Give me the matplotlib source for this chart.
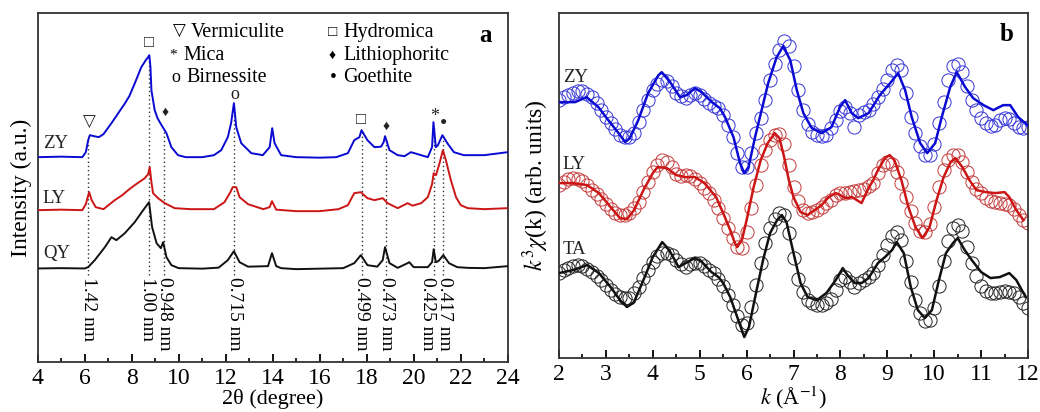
import matplotlib
matplotlib.use("Agg")
import matplotlib.pyplot as plt
from matplotlib.ticker import MultipleLocator
import numpy as np

plt.rcParams["font.family"] = ["Liberation Serif", "DejaVu Sans"]
plt.rcParams["mathtext.fontset"] = "stix"

# ---- panel a: XRD patterns (stacked, arbitrary units) ----
zy_x = [4.0, 5.0, 5.9, 6.05, 6.15, 6.22, 6.4, 6.6, 6.8, 7.14, 7.4, 7.71, 7.9, 8.13, 8.41, 8.6, 8.7, 8.75, 8.8, 8.84,
        8.98, 9.1, 9.27, 9.48, 9.69, 9.97, 10.3, 11.0, 11.5, 11.81, 12.09, 12.23, 12.35, 12.45, 12.66, 13.09, 13.58,
        13.87, 13.98, 14.08, 14.36, 15.0, 16.0, 16.7, 17.2, 17.47, 17.69, 17.78, 18.03, 18.33, 18.61, 18.72, 18.78,
        18.97, 19.32, 19.61, 19.88, 20.1, 20.6, 20.78, 20.84, 20.94, 21.03, 21.22, 21.43, 21.71, 22.13, 23.0, 24.0]
zy_y = [205, 205.5, 205, 210, 222, 227, 226, 225, 228, 239, 248, 258.7, 266, 278.7, 295, 302, 305, 307, 295, 272,
        252, 244, 237, 229, 215, 207, 205, 205, 207, 212, 225, 239, 259, 235, 219, 209, 207,
        215, 234, 219, 207, 205, 204.5, 205, 209, 222, 225, 232, 222, 215, 215.5, 220, 226,
        212, 207, 206, 210, 208.5, 205, 215, 240, 215, 217, 227, 219, 210, 207, 207, 210]

ly_x = [4.0, 5.0, 5.9, 6.05, 6.19, 6.3, 6.47, 6.8, 7.28, 7.6, 7.85, 8.13, 8.56, 8.7, 8.77, 8.84, 8.91, 9.12, 9.41,
        9.83, 10.5, 11.5, 11.95, 12.2, 12.3, 12.45, 12.59, 12.95, 13.6, 13.87, 13.97, 14.15, 15.0, 16.0, 16.8, 17.2,
        17.47, 17.75, 18.03, 18.33, 18.68, 18.89, 19.32, 19.74, 19.95, 20.32, 20.6, 20.78, 20.85, 20.95, 21.1,
        21.24, 21.37, 21.58, 21.8, 22.0, 22.3, 23.0, 24.0]
ly_y = [152, 152.5, 152, 158, 170, 162, 155, 153, 162, 167, 172, 177, 184, 188, 195, 180, 169, 164, 159,
        154, 153, 153, 160, 170, 175, 175, 165, 158, 153, 155, 161, 152.5, 151, 151, 153, 157,
        169, 170, 164, 162, 164, 159, 154, 159, 156.5, 159, 165, 178, 189, 187, 199,
        212, 202, 182, 165, 157, 154, 153, 154]

qy_x = [4.0, 5.0, 6.0, 6.15, 6.43, 6.86, 7.14, 7.35, 7.71, 8.13, 8.49, 8.74, 8.87, 9.06, 9.24, 9.34, 9.48, 9.69,
        10.0, 11.0, 11.7, 12.09, 12.35, 12.59, 12.95, 13.8, 13.97, 14.15, 14.36, 15.0, 16.0, 17.0, 17.47, 17.75,
        18.03, 18.45, 18.68, 18.78, 18.97, 19.32, 19.74, 19.81, 20.0, 20.6, 20.78, 20.85, 20.94, 21.05, 21.26,
        21.5, 21.85, 22.3, 23.0, 24.0]
qy_y = [93.7, 94, 93.7, 95, 102, 115, 125, 122, 129, 140, 152, 160, 135, 119, 114, 120, 105, 97,
        94, 93.5, 94.5, 102, 111, 100, 95.5, 96, 109, 96, 94, 93, 93.5, 94, 99, 107,
        97, 95.5, 102, 115, 99, 94.3, 99, 100, 95, 95, 100, 113, 100, 101, 107,
        99, 95, 94.3, 94, 96]

d_pos = [6.15, 8.74, 9.38, 12.36, 17.78, 18.8, 20.85, 21.24]
d_labels = ["1.42 nm", "1.00 nm", "0.948 nm", "0.715 nm", "0.499 nm", "0.473 nm", "0.425 nm", "0.417 nm"]

# ---- panel b: EXAFS k3-weighted spectra (stacked), fits and data ----
zy_fit_k = [2.0, 2.34, 2.59, 2.84, 3.05, 3.27, 3.41, 3.51, 3.69, 3.9, 4.12, 4.19, 4.37, 4.58, 4.72, 4.9, 5.04, 5.26,
            5.43, 5.54, 5.72, 5.86, 5.95, 6.04, 6.18, 6.32, 6.46, 6.64, 6.78, 6.93, 7.07, 7.21, 7.39, 7.6, 7.81,
            7.99, 8.1, 8.24, 8.38, 8.6, 8.84, 9.06, 9.23, 9.38, 9.52, 9.7, 9.85, 10.02, 10.16, 10.34, 10.48,
            10.66, 10.83, 11.05, 11.26, 11.47, 11.62, 11.79, 11.94, 12.0]
zy_fit = [256, 256, 261, 251, 238, 225, 216, 220, 238, 265, 283, 286, 276, 261, 263, 270, 266, 256,
          250, 241, 221, 195, 185, 191, 221, 248, 275, 301, 312, 298, 268, 245, 230, 225, 231,
          251, 258, 245, 240, 245, 263, 275, 285, 268, 241, 215, 205, 215, 241, 271, 286,
          271, 260, 253, 248, 253, 253, 241, 235, 232]

ly_fit_k = [2.0, 2.3, 2.6, 2.85, 3.1, 3.3, 3.45, 3.6, 3.8, 4.0, 4.1, 4.3, 4.5, 4.7, 4.9, 5.1, 5.35, 5.5, 5.65, 5.75,
            5.8, 5.9, 6.0, 6.15, 6.3, 6.45, 6.6, 6.7, 6.8, 6.9, 7.0, 7.15, 7.3, 7.45, 7.6, 7.75, 7.9, 8.0, 8.1,
            8.25, 8.45, 8.6, 8.7, 8.8, 8.95, 9.05, 9.15, 9.3, 9.45, 9.6, 9.75, 9.9, 10.05, 10.2, 10.35, 10.45,
            10.6, 10.75, 10.9, 11.1, 11.3, 11.5, 11.6, 11.75, 11.9]
ly_fit = [175, 175, 173, 165, 151, 140, 139, 148, 168, 185, 191, 190, 183, 181, 181, 175, 161, 145, 128, 115,
          111, 118, 138, 171, 198, 215, 225, 220, 201, 178, 161, 146, 143, 148, 153, 161, 165, 163, 160,
          161, 155, 170, 178, 188, 200, 203, 198, 178, 151, 131, 120, 131, 158, 181, 196, 200,
          191, 178, 168, 166, 165, 166, 161, 148, 138]

ta_fit_k = [2.0, 2.3, 2.6, 2.85, 3.1, 3.3, 3.45, 3.6, 3.8, 4.0, 4.2, 4.35, 4.55, 4.7, 4.9, 5.05, 5.25, 5.4, 5.5,
            5.65, 5.8, 5.95, 6.05, 6.2, 6.35, 6.5, 6.65, 6.75, 6.85, 7.0, 7.15, 7.3, 7.5, 7.7, 7.9, 8.05, 8.15,
            8.3, 8.45, 8.6, 8.8, 8.95, 9.1, 9.2, 9.35, 9.5, 9.65, 9.8, 9.95, 10.1, 10.25, 10.4, 10.5, 10.65,
            10.8, 11.0, 11.2, 11.4, 11.6, 11.75, 11.95]
ta_fit = [85, 88, 93, 85, 71, 58, 51, 56, 78, 101, 116, 108, 91, 95, 100, 96, 86, 81, 75,
          61, 41, 21, 31, 65, 98, 125, 138, 143, 136, 105, 75, 61, 58, 65, 78, 90, 83,
          75, 75, 80, 95, 101, 108, 116, 105, 71, 48, 40, 48, 78, 105, 115, 120, 108,
          98, 86, 80, 81, 85, 78, 61]

# measured points (open circles), every 0.1 in k
exp_k = [2.0, 2.1, 2.2, 2.3, 2.4, 2.5, 2.6, 2.7, 2.8, 2.9, 3.0, 3.1, 3.2, 3.3, 3.4, 3.5, 3.6, 3.7, 3.8, 3.9,
         4.0, 4.1, 4.2, 4.3, 4.4, 4.5, 4.6, 4.7, 4.8, 4.9, 5.0, 5.1, 5.2, 5.3, 5.4, 5.5, 5.6, 5.7, 5.8, 5.9,
         6.0, 6.1, 6.2, 6.3, 6.4, 6.5, 6.6, 6.7, 6.8, 6.9, 7.0, 7.1, 7.2, 7.3, 7.4, 7.5, 7.6, 7.7, 7.8, 7.9,
         8.0, 8.1, 8.2, 8.3, 8.4, 8.5, 8.6, 8.7, 8.8, 8.9, 9.0, 9.1, 9.2, 9.3, 9.4, 9.5, 9.6, 9.7, 9.8, 9.9,
         10.0, 10.1, 10.2, 10.3, 10.4, 10.5, 10.6, 10.7, 10.8, 10.9, 11.0, 11.1, 11.2, 11.3, 11.4, 11.5, 11.6,
         11.7, 11.8, 11.9, 12.0]
zy_exp = [258, 261, 263, 265, 267, 267, 264, 261, 255, 248, 241, 235, 229, 223, 221, 221, 225, 236, 248, 258,
          268, 274, 278, 277, 272, 265, 262, 260, 263, 265, 263, 259, 255, 252, 250, 243, 233, 221, 205, 191,
          191, 205, 225, 240, 258, 278, 294, 308, 317, 312, 292, 268, 248, 234, 226, 223, 222, 223, 230, 238,
          247, 251, 245, 231, 243, 246, 248, 254, 261, 269, 278, 288, 293, 288, 265, 241, 225, 212, 203, 203,
          214, 235, 256, 278, 292, 294, 286, 272, 258, 248, 240, 235, 232, 233, 238, 240, 239,
          235, 231, 230, 231]
ly_exp = [173, 176, 179, 180, 179, 177, 173, 168, 164, 159, 154, 149, 145, 143, 143, 145, 150, 156, 166, 176,
          186, 193, 198, 196, 191, 184, 182, 183, 182, 179, 175, 170, 165, 158, 150, 140, 130, 120, 111, 110,
          126, 150, 173, 193, 208, 218, 223, 224, 214, 193, 171, 157, 148, 145, 146, 148, 151, 155, 158, 163,
          165, 165, 166, 167, 168, 169, 172, 175, 185, 193, 196, 194, 186, 175, 161, 147, 135, 127, 126, 134,
          151, 171, 188, 198, 203, 203, 196, 186, 176, 169, 165, 160, 157, 156, 155, 154, 153,
          149, 143, 138, 135]
ta_exp = [85, 88, 90, 92, 93, 92, 89, 86, 82, 78, 73, 68, 64, 61, 60, 60, 65, 71, 80, 88,
          96, 102, 105, 105, 103, 98, 94, 91, 94, 95, 95, 92, 88, 85, 79, 72, 63, 53, 42, 33,
          35, 51, 73, 95, 115, 130, 139, 145, 143, 125, 100, 79, 66, 58, 55, 53, 53, 55, 59, 68,
          78, 81, 76, 71, 75, 78, 81, 85, 93, 103, 113, 122, 126, 118, 97, 76, 58, 45, 37, 38,
          50, 72, 97, 117, 130, 133, 127, 111, 95, 82, 72, 67, 65, 65, 66, 67, 66,
          65, 61, 55, 50]

BLUE = "#0a0ad2"
RED = "#cc1515"
BLACK = "#111111"
SPINE = "#333333"
SYM = ["Liberation Serif", "DejaVu Sans"]


def style_axis(ax, major, minor):
    ax.xaxis.set_major_locator(MultipleLocator(major))
    ax.xaxis.set_minor_locator(MultipleLocator(minor))
    ax.tick_params(axis="x", which="major", direction="in", length=6, width=1.3, labelsize=17, pad=4)
    ax.tick_params(axis="x", which="minor", direction="in", length=3, width=1.2)
    ax.set_yticks([])
    for s in ax.spines.values():
        s.set_linewidth(1.3)
        s.set_color(SPINE)


def plot_xrd(ax):
    ax.plot(zy_x, zy_y, color=BLUE, lw=1.4, zorder=3)
    ax.plot(ly_x, ly_y, color=RED, lw=1.4, zorder=3)
    ax.plot(qy_x, qy_y, color=BLACK, lw=1.4, zorder=3)

    # dotted reference lines from the ZY pattern down to the d-spacing labels
    for p in d_pos:
        top = np.interp(p, zy_x, zy_y)
        ax.plot([p, p], [87, top], ls=(0, (1, 2)), color="#333333", lw=1.0, zorder=2)

    lab_x = [6.15, 8.66, 9.38, 12.38, 17.77, 18.85, 20.58, 21.33]
    for x, t in zip(lab_x, d_labels):
        ax.text(x, 85, t, rotation=-90, ha="center", va="top", fontsize=14)

    for t, h in [("ZY", 219), ("LY", 164), ("QY", 109)]:
        ax.text(4.22, h, t, fontsize=13.5, color="#222222", va="center", ha="left")

    # phase markers over the peaks
    marks = [("▽", 6.22, 239, 12), ("□", 8.73, 319, 12), ("♦", 9.41, 250, 10), ("o", 12.38, 268, 13),
             ("□", 17.77, 242, 12), ("♦", 18.83, 236, 10), ("*", 20.87, 246, 13), ("•", 21.25, 238, 15)]
    for s, x, h, fs in marks:
        ax.text(x, h, s, ha="center", va="center", fontsize=fs, family=SYM, color="#222222")

    # legend of phases: symbol centre, symbol size, text start
    leg = [("▽", 10.02, 12, "Vermiculite", 10.5, 330), ("*", 9.77, 11, "Mica", 10.22, 307),
           ("o", 9.88, 13, "Birnessite", 10.33, 285), ("□", 16.56, 11, "Hydromica", 17.0, 330),
           ("♦", 16.54, 10, "Lithiophoritc", 17.0, 307), ("•", 16.56, 14, "Goethite", 17.0, 285)]
    for s, sx, sfs, t, tx, h in leg:
        ax.text(sx, h, s, ha="center", va="center", fontsize=sfs, family=SYM)
        ax.text(tx, h, t, ha="left", va="center", fontsize=14.5)

    ax.text(23.05, 327, "a", fontsize=18, fontweight="bold", ha="center", va="center")

    ax.set_xlim(4, 24)
    ax.set_ylim(0, 349)
    style_axis(ax, 2, 1)
    ax.set_xlabel("2θ (degree)", fontsize=16, labelpad=0)
    ax.set_ylabel("Intensity (a.u.)", fontsize=17, labelpad=4)


def plot_exafs(ax):
    series = [(zy_exp, zy_fit_k, zy_fit, BLUE, "#3434d8"),
              (ly_exp, ly_fit_k, ly_fit, RED, "#c43a3a"),
              (ta_exp, ta_fit_k, ta_fit, BLACK, "#222222")]
    for ev, fk, fv, c, mc in series:
        ax.plot(exp_k, ev, ls="none", marker="o", ms=9.5, mfc="none", mec=mc, mew=0.7, zorder=2)
        ax.plot(fk, fv, color=c, lw=1.8, zorder=3)

    for t, h in [("ZY", 281), ("LY", 194), ("TA", 109)]:
        ax.text(2.08, h, t, fontsize=13.5, color="#222222", va="center", ha="left")

    ax.text(11.55, 324, "b", fontsize=18, fontweight="bold", ha="center", va="center")

    ax.set_xlim(2, 12)
    ax.set_ylim(0, 345)
    style_axis(ax, 1, 0.5)
    ax.set_xlabel(r"$k$ (Å$^{-1}$)", fontsize=16, labelpad=0)
    ax.set_ylabel(r"$k^3\chi$(k) (arb. units)", fontsize=17, labelpad=6)


def plot():
    fig = plt.figure(figsize=(10.4, 4.12), dpi=100)
    ax1 = fig.add_axes([0.0362, 0.121, 0.452, 0.847])
    ax2 = fig.add_axes([0.5375, 0.131, 0.4510, 0.837])
    plot_xrd(ax1)
    plot_exafs(ax2)
    fig.savefig("out.png", dpi=100)


if __name__ == "__main__":
    plot()
